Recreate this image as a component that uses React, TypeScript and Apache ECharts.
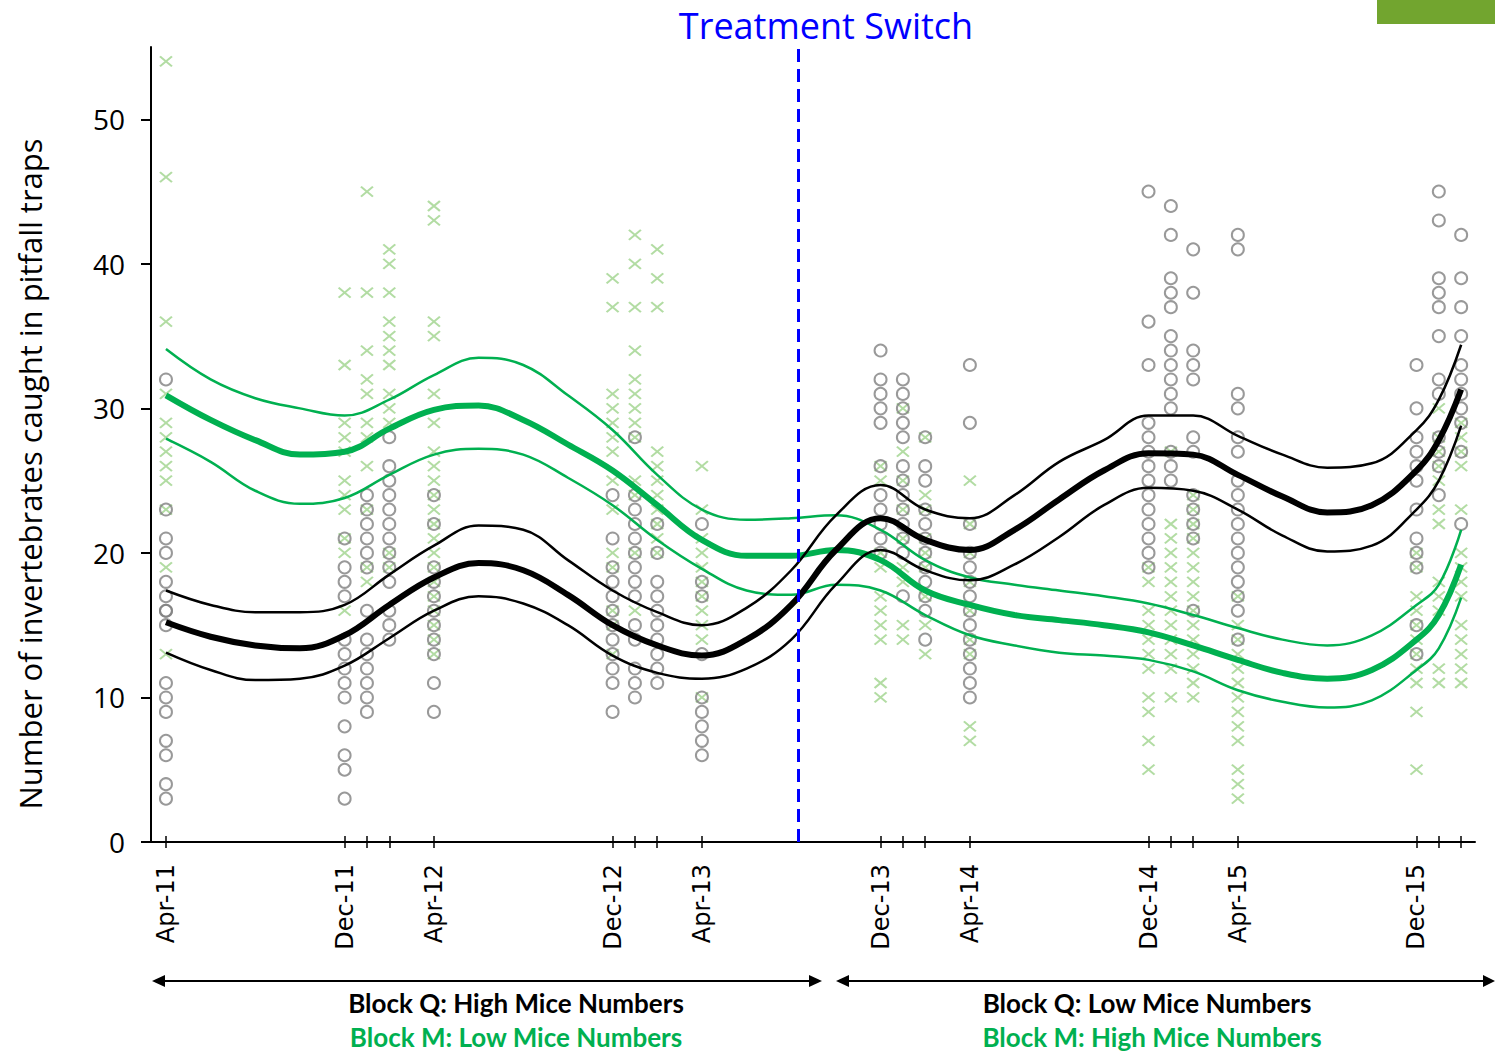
import React, { useEffect, useRef } from "react";
import * as echarts from "echarts";

// Months since April 2011 at which traps were sampled
const sampleMonths = [0, 8, 9, 10, 12, 20, 21, 22, 24, 32, 33, 34, 36, 44, 45, 46, 48, 56, 57, 58];

// Block Q counts (grey circles), one list per sampling date
const blockQCounts: number[][] = [
  [32, 23, 21, 20, 18, 17, 16, 16, 15, 11, 10, 9, 7, 6, 4, 3],
  [21, 19, 18, 17, 14, 13, 12, 11, 10, 8, 6, 5, 3],
  [24, 23, 22, 21, 20, 19, 16, 14, 13, 12, 11, 10, 9],
  [28, 26, 25, 24, 23, 22, 21, 20, 19, 18, 16, 15, 14],
  [24, 22, 19, 18, 17, 16, 15, 14, 13, 11, 9],
  [24, 21, 19, 18, 17, 16, 15, 14, 13, 12, 11, 9],
  [28, 24, 23, 22, 21, 20, 19, 18, 17, 15, 14, 12, 11, 10],
  [22, 20, 18, 17, 16, 15, 14, 13, 12, 11],
  [22, 18, 17, 13, 10, 9, 8, 7, 6],
  [34, 32, 31, 30, 29, 26, 24, 23, 22, 21, 20],
  [32, 31, 30, 29, 28, 26, 25, 24, 23, 22, 21, 20, 17],
  [28, 26, 25, 23, 22, 21, 20, 19, 18, 17, 16, 14],
  [33, 29, 22, 20, 19, 18, 17, 16, 15, 14, 13, 12, 11, 10],
  [45, 36, 33, 29, 28, 27, 26, 25, 24, 23, 22, 21, 20, 19],
  [44, 42, 39, 38, 37, 35, 34, 33, 32, 31, 30, 27, 26, 25],
  [41, 38, 34, 33, 32, 28, 27, 24, 23, 22, 21, 16],
  [42, 41, 31, 30, 28, 27, 25, 24, 23, 22, 21, 20, 19, 18, 17, 16, 14],
  [33, 30, 28, 27, 26, 25, 23, 21, 20, 19, 15, 13],
  [45, 43, 39, 38, 37, 35, 32, 31, 28, 27, 26, 24],
  [42, 39, 37, 35, 33, 32, 31, 30, 29, 27, 22],
];

// Block M counts (green crosses), one list per sampling date
const blockMCounts: number[][] = [
  [54, 46, 36, 31, 29, 28, 27, 26, 25, 23, 19, 13],
  [38, 33, 29, 28, 27, 25, 24, 23, 21, 20, 16],
  [45, 38, 34, 32, 31, 29, 28, 26, 23, 19, 18],
  [41, 40, 38, 36, 35, 34, 33, 31, 30, 29, 20, 19],
  [44, 43, 36, 35, 31, 29, 27, 26, 25, 24, 23, 22, 21, 20, 19, 18, 17, 16, 15, 14, 13],
  [39, 37, 31, 30, 29, 28, 27, 25, 23, 20, 19, 16, 15, 13],
  [42, 40, 37, 34, 32, 31, 30, 29, 28, 25, 24, 20, 16],
  [41, 39, 37, 27, 26, 25, 24, 23, 22, 21, 20],
  [26, 23, 21, 20, 19, 18, 17, 16, 15, 14, 10],
  [26, 25, 20, 19, 17, 16, 15, 14, 11, 10],
  [30, 27, 25, 23, 21, 19, 18, 15, 14],
  [28, 24, 23, 21, 20, 19, 17, 15, 13],
  [25, 22, 20, 18, 16, 14, 13, 8, 7],
  [19, 18, 16, 15, 14, 13, 12, 10, 9, 7, 5],
  [27, 22, 21, 20, 19, 18, 17, 16, 15, 14, 13, 12, 10],
  [24, 23, 22, 21, 20, 19, 18, 17, 16, 15, 14, 13, 12, 11, 10],
  [17, 15, 14, 13, 12, 11, 10, 9, 8, 7, 5, 4, 3],
  [20, 19, 17, 16, 15, 14, 13, 12, 11, 9, 5],
  [30, 28, 27, 26, 25, 23, 22, 18, 17, 16, 12, 11],
  [29, 28, 27, 26, 23, 20, 19, 18, 17, 15, 14, 13, 12, 11],
];

// Fitted curves (fit and confidence band), read at these months
const fitMonths = [0, 2, 4, 6, 8, 10, 12, 14, 16, 18, 20, 22, 24, 26, 28, 30, 32, 34, 36, 38, 40, 42, 44, 46, 48, 50, 52, 54, 56, 57, 58];
const blockMFit = [30.9, 29.2, 27.8, 26.8, 27.0, 28.6, 29.9, 30.2, 29.2, 27.5, 25.7, 23.3, 20.9, 19.8, 19.8, 20.2, 19.5, 17.4, 16.4, 15.7, 15.35, 15.0, 14.5, 13.6, 12.6, 11.7, 11.3, 11.9, 14.0, 15.7, 19.2];
const blockMUpper = [34.1, 32.0, 30.7, 30.0, 29.5, 30.6, 32.3, 33.5, 33.0, 30.9, 28.5, 25.4, 23.0, 22.3, 22.4, 22.6, 21.6, 19.5, 18.3, 17.8, 17.4, 17.0, 16.5, 15.7, 14.8, 14.0, 13.6, 14.3, 16.4, 17.8, 21.6];
const blockMLower = [27.9, 26.3, 24.3, 23.4, 23.8, 25.4, 26.8, 27.2, 26.8, 25.2, 23.3, 20.9, 18.9, 17.4, 17.1, 17.8, 17.4, 15.7, 14.3, 13.6, 13.1, 12.9, 12.6, 11.8, 10.5, 9.7, 9.3, 9.8, 11.9, 13.4, 16.9];
const blockQFit = [15.2, 14.2, 13.6, 13.4, 14.3, 16.4, 18.3, 19.3, 18.8, 17.1, 15.0, 13.6, 12.9, 14.0, 16.4, 20.2, 22.4, 20.9, 20.2, 21.6, 23.7, 25.7, 26.9, 26.8, 25.4, 23.9, 22.8, 23.3, 25.7, 27.8, 31.3];
const blockQUpper = [17.4, 16.4, 15.9, 15.9, 16.4, 18.5, 20.5, 21.9, 21.6, 19.5, 17.4, 15.9, 15.0, 16.2, 18.8, 22.6, 24.7, 23.0, 22.4, 24.0, 26.3, 27.8, 29.5, 29.5, 28.1, 26.8, 25.9, 26.2, 28.5, 30.6, 34.4];
const blockQLower = [13.1, 11.9, 11.2, 11.3, 12.2, 14.1, 16.0, 17.0, 16.5, 15.0, 12.9, 11.7, 11.3, 12.0, 14.0, 17.8, 20.2, 18.8, 18.1, 19.2, 21.1, 23.3, 24.5, 24.3, 23.0, 21.2, 20.1, 20.5, 23.0, 25.0, 28.8];

// Axis labels
const labelMonths = [0, 8, 12, 20, 24, 32, 36, 44, 48, 56];
const labelTexts = ["Apr-11", "Dec-11", "Apr-12", "Dec-12", "Apr-13", "Dec-13", "Apr-14", "Dec-14", "Apr-15", "Dec-15"];
const yTicks = [0, 10, 20, 30, 40, 50];
const switchMonth = 28.3;

const GREEN = "#00B050";
const CROSS = "#9FD38C";
const GREY = "#808080";

function App() {
  const ref = useRef<HTMLDivElement>(null);
  useEffect(() => {
    document.body.style.margin = "0";
    if (!ref.current) return;
    const chart = echarts.init(ref.current, null, { renderer: "svg" });

    const qPoints: number[][] = [];
    const mPoints: number[][] = [];
    sampleMonths.forEach((m, i) => {
      blockQCounts[i].forEach((v) => qPoints.push([m, v]));
      blockMCounts[i].forEach((v) => mPoints.push([m, v]));
    });
    const curve = (vals: number[]) => fitMonths.map((m, i) => [m, vals[i]]);

    const lineSeries = (name: string, vals: number[], color: string, width: number) => ({
      type: "line",
      name,
      data: curve(vals),
      smooth: 0.4,
      symbol: "none",
      lineStyle: { color, width },
      z: 4,
      silent: true,
    });

    const option: any = {
      animation: false,
      grid: { left: 151, right: 20, top: 47, bottom: 212 },
      xAxis: [
        {
          type: "value",
          min: -0.67,
          max: 58.62,
          axisLine: { show: true, onZero: false, lineStyle: { color: "#000", width: 2 } },
          axisTick: {
            show: true,
            length: 6,
            customValues: sampleMonths,
            lineStyle: { color: "#000", width: 1.5 },
          },
          axisLabel: {
            customValues: labelMonths,
            rotate: 90,
            margin: 22,
            fontFamily: "DejaVu Sans",
            fontSize: 24,
            color: "#000",
            formatter: (v: number) => {
              const idx = labelMonths.indexOf(Math.round(v));
              return idx >= 0 ? labelTexts[idx] : "";
            },
          },
          splitLine: { show: false },
        },
        {
          type: "value",
          min: -0.67,
          max: 58.62,
          position: "bottom",
          axisLine: { show: false, onZero: false },
          axisTick: {
            show: true,
            inside: true,
            length: 6,
            customValues: sampleMonths,
            lineStyle: { color: "#000", width: 1.5 },
          },
          axisLabel: { show: false },
          splitLine: { show: false },
        },
      ],
      yAxis: {
        type: "value",
        min: 0,
        max: 55,
        interval: 10,
        axisLine: { show: true, onZero: false, lineStyle: { color: "#000", width: 2 } },
        axisTick: { show: true, length: 10, customValues: yTicks, lineStyle: { color: "#000", width: 2 } },
        axisLabel: {
          customValues: yTicks,
          margin: 26,
          fontFamily: "Open Sans",
          fontSize: 28,
          color: "#000",
        },
        splitLine: { show: false },
      },
      series: [
        {
          type: "scatter",
          name: "Block M",
          data: mPoints,
          symbol: "path://M0,0 L12,10 M12,0 L0,10",
          symbolSize: [12, 10],
          itemStyle: { color: "transparent", borderColor: CROSS, borderWidth: 2 },
          z: 2,
          silent: true,
        },
        {
          type: "scatter",
          name: "Block Q",
          data: qPoints,
          symbol: "circle",
          symbolSize: 12,
          itemStyle: { color: "transparent", borderColor: GREY, borderWidth: 2 },
          z: 3,
          silent: true,
          markLine: {
            silent: true,
            symbol: "none",
            label: { show: false },
            lineStyle: { color: "#0000FF", width: 3, type: [13, 7] },
            data: [{ xAxis: switchMonth }],
          },
        },
        lineSeries("Block M upper", blockMUpper, GREEN, 2.5),
        lineSeries("Block M lower", blockMLower, GREEN, 2.5),
        lineSeries("Block M fit", blockMFit, GREEN, 6),
        lineSeries("Block Q upper", blockQUpper, "#000", 2.5),
        lineSeries("Block Q lower", blockQLower, "#000", 2.5),
        lineSeries("Block Q fit", blockQFit, "#000", 6),
      ],
      graphic: [
        {
          type: "text",
          x: 826,
          y: 25,
          style: {
            text: "Treatment Switch",
            fill: "#0000FF",
            font: "36px 'Open Sans'",
            textAlign: "center",
            textVerticalAlign: "middle",
          },
        },
        { type: "rect", shape: { x: 1377, y: 0, width: 118, height: 24 }, style: { fill: "#72A52F" } },
        {
          type: "text",
          x: 30,
          y: 474,
          rotation: Math.PI / 2,
          style: {
            text: "Number of invertebrates caught in pitfall traps",
            fill: "#000",
            font: "31px 'Open Sans'",
            textAlign: "center",
            textVerticalAlign: "middle",
          },
        },
        // arrows
        { type: "line", shape: { x1: 160, y1: 981, x2: 814, y2: 981 }, style: { stroke: "#000", lineWidth: 2 } },
        { type: "polygon", shape: { points: [[152, 981], [165, 975], [165, 987]] }, style: { fill: "#000" } },
        { type: "polygon", shape: { points: [[822, 981], [809, 975], [809, 987]] }, style: { fill: "#000" } },
        { type: "line", shape: { x1: 844, y1: 981, x2: 1490, y2: 981 }, style: { stroke: "#000", lineWidth: 2 } },
        { type: "polygon", shape: { points: [[836, 981], [849, 975], [849, 987]] }, style: { fill: "#000" } },
        { type: "polygon", shape: { points: [[1495, 981], [1483, 975], [1483, 987]] }, style: { fill: "#000" } },
        {
          type: "text",
          x: 516,
          y: 1003,
          style: { text: "Block Q: High Mice Numbers", fill: "#000", font: "bold 26px Lato", textAlign: "center", textVerticalAlign: "middle" },
        },
        {
          type: "text",
          x: 516,
          y: 1037,
          style: { text: "Block M: Low Mice Numbers", fill: GREEN, font: "bold 26px Lato", textAlign: "center", textVerticalAlign: "middle" },
        },
        {
          type: "text",
          x: 1147,
          y: 1003,
          style: { text: "Block Q: Low Mice Numbers", fill: "#000", font: "bold 26px Lato", textAlign: "center", textVerticalAlign: "middle" },
        },
        {
          type: "text",
          x: 1152,
          y: 1037,
          style: { text: "Block M: High Mice Numbers", fill: GREEN, font: "bold 26px Lato", textAlign: "center", textVerticalAlign: "middle" },
        },
      ],
    };
    chart.setOption(option);
    return () => chart.dispose();
  }, []);
  return <div ref={ref} style={{ position: "absolute", left: 0, top: 0, width: 1495, height: 1054 }} />;
}

export default App;
